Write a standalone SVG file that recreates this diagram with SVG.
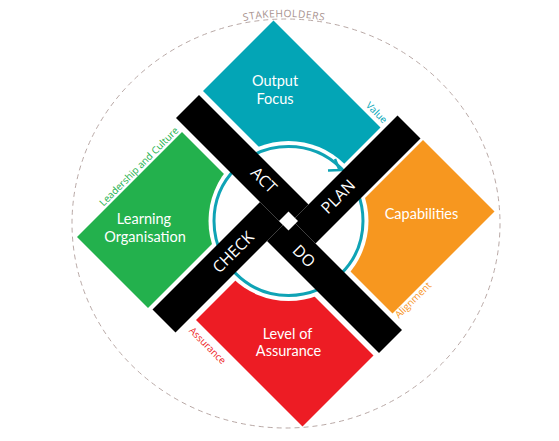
<svg xmlns="http://www.w3.org/2000/svg" width="559" height="441" viewBox="0 0 559 441">
<style>
.big{font-family:Lato,"Open Sans","Liberation Sans",sans-serif;fill:#fff;font-size:14.5px;text-anchor:middle}
.bt{font-family:"Open Sans","Liberation Sans",sans-serif;fill:#fff;font-size:16px;text-anchor:middle}
.sm{font-family:"Open Sans","Liberation Sans",sans-serif;font-size:9.8px;text-anchor:middle}
.arm{fill:#000}
</style>
<defs>
<path id="stkPath" d="M 78 223 A 206 206 0 0 1 490 223"/>
</defs>
<rect width="559" height="441" fill="#fff"/>
<g id="stakeholders">
<ellipse cx="286" cy="223.5" rx="214" ry="204.5" fill="none" stroke="#b9a9a6" stroke-width="1" stroke-dasharray="5 4"/>
<text class="sm" style="font-size:10.2px;letter-spacing:0.5px" fill="#a8938f"><textPath href="#stkPath" startOffset="50%">STAKEHOLDERS</textPath></text>
</g>
<g id="output-focus">
<polygon points="273.5,20.5 380.5,127.5 310,198 203,91" fill="#03a5b6"/>
</g>
<g id="capabilities">
<polygon points="423,140 494.5,211.5 392.5,313.5 321,242" fill="#f7971f"/>
</g>
<g id="level-of-assurance">
<polygon points="267,249 373.5,355.5 302.5,426.5 196,320" fill="#ed1c24"/>
</g>
<g id="learning-organisation">
<polygon points="182,132 253,203 148,308 77,237" fill="#23b14d"/>
</g>
<circle cx="288.5" cy="221" r="80" fill="#fff"/>
<g id="connectors">
<circle cx="288.5" cy="221" r="74.5" fill="none" stroke="#0fa3b5" stroke-width="3"/>
<polyline points="328,170.5 339.5,170 335,159" fill="none" stroke="#0fa3b5" stroke-width="2.5" stroke-linejoin="miter"/>
</g>
<g id="pdca-cross">
<polygon class="arm" points="199,95 308.5,204.5 285.5,227.5 176,118"/>
<polygon class="arm" points="397.5,115.5 420.5,138.5 315.5,243.5 292.5,220.5"/>
<polygon class="arm" points="290,218 402,330 379,353 267,241"/>
<polygon class="arm" points="260,202 283,225 175.5,332.5 152.5,309.5"/>
<polygon points="288.5,211.5 298,221 288.5,230.5 279,221" fill="#fff"/>
<text class="bt" transform="translate(264,180) rotate(45)" y="5.7">ACT</text>
<text class="bt" transform="translate(338,196.5) rotate(-45)" y="5.7">PLAN</text>
<text class="bt" transform="translate(233,252) rotate(-45)" y="5.7">CHECK</text>
<text class="bt" transform="translate(304,256) rotate(45)" y="5.7">DO</text>
</g>
<g id="labels">
<text class="big" x="275" y="86">Output</text>
<text class="big" x="275" y="103.5">Focus</text>
<text class="big" x="421.5" y="219">Capabilities</text>
<text class="big" x="144" y="224">Learning</text>
<text class="big" x="145" y="241.5">Organisation</text>
<text class="big" x="287.5" y="338.5">Level of</text>
<text class="big" x="288.5" y="356">Assurance</text>
<text class="sm" fill="#03a5b6" transform="translate(376.5,112.5) rotate(45)" y="3.4">Value</text>
<text class="sm" fill="#23b14d" transform="translate(139,166.5) rotate(-45)" y="3.4">Leadership and Culture</text>
<text class="sm" fill="#f7971f" transform="translate(413,300) rotate(-45)" y="3.4">Alignment</text>
<text class="sm" fill="#ed1c24" transform="translate(207.5,345.5) rotate(45)" y="3.4">Assurance</text>
</g>
</svg>
